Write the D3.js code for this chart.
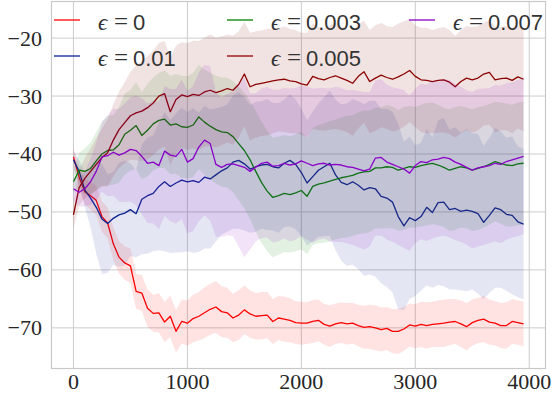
<!DOCTYPE html>
<html>
<head>
<meta charset="utf-8">
<script src="https://cdn.jsdelivr.net/npm/d3@7"></script>
<style>
  body { margin: 0; background: #ffffff; }
  svg { display: block; }
</style>
</head>
<body>
<div id="chart"></div>
<script>
// training steps (x)
var steps = [0,50,100,150,200,250,300,350,400,450,500,550,600,650,700,750,800,850,900,950,
  1000,1050,1100,1150,1200,1250,1300,1350,1400,1450,1500,1550,1600,1650,1700,1750,1800,1850,1900,1950,
  2000,2050,2100,2150,2200,2250,2300,2350,2400,2450,2500,2550,2600,2650,2700,2750,2800,2850,2900,2950,
  3000,3050,3100,3150,3200,3250,3300,3350,3400,3450,3500,3550,3600,3650,3700,3750,3800,3850,3900,3950];

var xTicks = [0, 1000, 2000, 3000, 4000];
var yTicks = [-20, -30, -40, -50, -60, -70];

// eps = 0
var meanEps0 = [-40.5,-44.0,-46.5,-47.2,-48.0,-50.8,-51.9,-55.5,-57.8,-58.8,
  -59.3,-63.7,-64.0,-66.6,-67.5,-67.4,-69.0,-68.0,-70.6,-68.9,
  -69.2,-68.4,-68.0,-67.4,-66.8,-66.4,-67.2,-67.4,-68.3,-67.8,
  -66.9,-67.6,-68.0,-67.9,-67.8,-68.9,-68.3,-68.5,-68.7,-69.1,
  -69.2,-69.2,-68.9,-68.7,-69.4,-69.7,-69.3,-69.1,-69.3,-69.2,
  -69.6,-69.9,-69.8,-70.0,-70.3,-70.1,-70.6,-70.6,-70.2,-69.5,
  -69.7,-69.4,-69.6,-69.4,-69.3,-69.2,-69.0,-68.9,-69.3,-69.8,
  -69.1,-68.7,-68.5,-69.0,-69.2,-69.6,-69.6,-68.9,-69.1,-69.3];
var spreadEps0 = [1.5,2.0,2.2,2.4,2.5,2.6,2.7,2.8,2.8,2.9,
  3.0,3.0,3.1,3.2,3.2,3.4,3.5,3.6,3.7,3.8,
  3.9,4.1,4.2,4.4,4.4,4.5,4.4,4.3,4.2,4.3,
  4.2,4.1,4.0,4.1,4.0,3.9,3.8,3.9,3.8,3.7,
  3.7,3.6,3.7,3.6,3.5,3.6,3.5,3.5,3.6,3.5,
  3.6,3.7,3.8,3.9,3.8,3.7,3.8,3.9,3.8,3.7,
  3.8,3.9,4.0,3.9,4.0,4.1,4.0,3.9,4.0,4.1,
  4.0,3.9,4.0,3.9,3.8,3.9,4.0,3.9,3.8,3.9];

// eps = 0.01
var meanEps001 = [-41.0,-43.0,-46.2,-47.6,-49.2,-51.2,-52.0,-51.1,-50.5,-50.2,
  -49.6,-50.3,-47.8,-47.2,-46.8,-45.6,-44.8,-45.6,-45.0,-44.5,
  -44.8,-44.6,-44.9,-44.0,-44.3,-43.6,-42.9,-42.4,-41.4,-41.1,
  -41.7,-42.6,-42.2,-41.9,-41.8,-42.2,-42.4,-41.6,-41.1,-41.8,
  -43.2,-45.0,-43.9,-42.8,-42.2,-41.6,-43.6,-44.9,-45.3,-44.8,
  -45.4,-46.2,-45.8,-46.0,-47.3,-47.6,-48.3,-50.8,-52.4,-51.0,
  -51.5,-50.8,-49.2,-50.1,-48.4,-48.3,-49.6,-49.4,-49.9,-49.7,
  -49.9,-50.3,-51.8,-50.6,-49.3,-49.6,-50.4,-50.6,-51.7,-52.1];
var spreadEps001 = [1.5,2.0,3.0,5.0,8.0,9.5,8.5,8.0,9.0,9.0,
  8.0,7.5,9.5,10.0,10.0,11.0,12.0,11.5,12.0,12.5,
  12.0,12.5,12.0,12.3,12.0,11.5,11.0,11.0,11.5,11.8,
  11.5,11.0,11.2,11.0,11.3,11.0,11.2,11.0,11.4,11.2,
  11.0,10.8,11.2,11.5,12.0,12.5,13.0,13.5,14.0,14.3,
  14.5,14.8,15.0,15.2,15.0,15.4,15.6,16.0,14.5,14.0,
  13.0,12.8,13.5,13.0,14.2,14.5,13.8,14.0,13.6,14.0,
  13.5,13.8,13.2,13.4,13.8,13.5,13.2,13.6,13.0,13.0];

// eps = 0.003
var meanEps0003 = [-44.8,-42.8,-43.0,-42.5,-41.2,-40.0,-39.4,-39.3,-38.4,-36.6,
  -35.9,-35.1,-36.8,-35.9,-34.8,-34.2,-34.0,-35.0,-34.8,-35.3,
  -35.4,-35.0,-33.6,-34.5,-35.2,-35.8,-36.2,-36.3,-37.0,-38.2,
  -39.4,-41.0,-43.0,-44.9,-46.4,-47.5,-47.2,-46.8,-47.0,-46.7,
  -46.3,-47.3,-45.6,-45.2,-45.0,-44.7,-44.4,-44.1,-43.9,-43.7,
  -43.3,-43.1,-43.0,-42.4,-42.4,-42.2,-42.3,-42.8,-42.5,-42.2,
  -42.3,-42.0,-41.8,-41.6,-41.9,-42.3,-42.8,-42.5,-42.2,-42.4,
  -42.8,-42.5,-42.2,-41.8,-41.3,-41.6,-41.9,-42.0,-41.7,-41.6];
var spreadEps0003 = [2.0,3.0,4.0,4.5,5.0,5.5,6.0,6.0,6.5,7.0,
  7.0,7.5,7.5,8.0,8.0,8.2,8.4,8.5,8.6,8.8,
  8.8,9.0,9.0,9.1,9.2,9.3,9.4,9.5,9.6,9.8,
  10.0,10.2,10.4,10.5,10.4,10.3,10.2,10.1,10.0,10.1,
  10.2,10.0,10.1,10.2,10.3,10.4,10.3,10.4,10.5,10.4,
  10.5,10.6,10.5,10.4,10.5,10.6,10.5,10.4,10.6,10.5,
  10.4,10.5,10.6,10.5,10.4,10.3,10.5,10.6,10.5,10.4,
  10.5,10.6,10.5,10.4,10.3,10.5,10.6,10.5,10.6,10.6];

// eps = 0.005
var meanEps0005 = [-50.5,-45.8,-44.2,-43.0,-41.8,-40.6,-39.8,-37.6,-35.8,-34.6,
  -33.4,-32.9,-32.6,-32.0,-31.2,-30.0,-29.6,-32.7,-30.6,-29.8,
  -30.1,-29.7,-29.9,-29.3,-29.0,-29.4,-29.1,-28.7,-29.0,-28.0,
  -26.2,-28.4,-28.0,-27.8,-27.6,-27.4,-27.2,-27.1,-27.4,-27.5,
  -27.9,-28.1,-26.6,-27.0,-27.2,-26.8,-26.5,-26.9,-27.3,-27.8,
  -26.6,-25.8,-27.5,-26.9,-26.4,-26.8,-27.1,-26.7,-26.2,-25.6,
  -26.6,-27.2,-27.3,-27.5,-27.3,-27.2,-27.6,-28.4,-27.5,-26.9,
  -27.2,-26.9,-26.2,-25.9,-27.2,-27.0,-26.9,-27.3,-26.7,-27.1];
var spreadEps0005 = [2.5,3.0,3.5,4.0,4.5,5.0,5.8,6.2,6.6,7.0,
  7.6,8.2,8.6,8.9,9.0,9.2,9.1,9.2,9.3,9.1,
  9.2,9.3,9.4,9.4,9.6,9.5,9.4,9.3,9.4,9.2,
  9.0,9.3,9.2,9.1,9.2,9.0,8.9,9.1,9.0,8.9,
  8.8,9.0,9.1,8.9,8.8,9.0,9.2,9.0,8.9,9.1,
  9.0,8.8,8.9,9.1,9.0,8.9,9.0,9.2,9.1,8.9,
  8.8,9.0,9.1,8.9,9.0,9.1,9.0,8.8,8.9,9.0,
  9.1,9.0,8.9,9.0,9.1,8.9,9.0,9.1,8.9,9.0];

// eps = 0.007
var meanEps0007 = [-46.0,-46.6,-46.0,-44.8,-43.0,-40.5,-40.3,-39.7,-40.2,-39.8,
  -39.2,-39.4,-40.4,-41.6,-41.4,-42.0,-39.5,-40.2,-40.4,-39.2,
  -41.4,-40.8,-38.8,-37.6,-38.2,-41.8,-42.3,-41.8,-41.7,-42.0,
  -42.3,-43.0,-42.3,-41.6,-41.4,-42.1,-42.0,-41.6,-41.9,-41.7,
  -41.2,-41.6,-42.0,-41.7,-41.6,-41.9,-41.8,-41.9,-42.2,-42.3,
  -42.6,-42.9,-42.6,-40.7,-40.6,-41.4,-41.8,-42.2,-42.6,-43.3,
  -42.0,-41.3,-41.5,-41.0,-40.9,-40.6,-40.8,-41.4,-41.8,-42.3,
  -42.8,-42.4,-42.2,-42.0,-41.6,-41.8,-41.3,-41.0,-40.7,-40.4];
var spreadEps0007 = [2.0,2.5,3.0,4.0,5.0,6.0,7.0,7.5,8.0,8.5,
  9.0,9.5,10.0,10.3,10.6,11.0,11.2,11.4,11.6,12.0,
  12.3,12.5,12.8,13.0,13.3,12.5,12.0,12.2,12.5,14.0,
  15.5,13.5,12.8,12.9,13.0,13.2,13.1,13.0,13.2,13.1,
  13.0,13.2,13.3,13.1,13.0,13.2,13.4,13.3,13.2,13.4,
  13.5,13.6,13.3,13.4,13.5,13.4,13.3,13.5,13.6,13.4,
  13.3,13.4,13.5,13.6,13.4,13.5,13.6,13.5,13.4,13.3,
  13.5,13.6,13.5,13.4,13.5,13.6,13.5,13.4,13.5,13.4];

// legend order (column-wise, 3 columns) == plotting order
var seriesNames = ["0", "0.01", "0.003", "0.005", "0.007"];
var seriesColors = ["#ff0000", "#0a2490", "#008000", "#8b0000", "#8a00c8"];
var seriesMeans = [meanEps0, meanEps001, meanEps0003, meanEps0005, meanEps0007];
var seriesSpreads = [spreadEps0, spreadEps001, spreadEps0003, spreadEps0005, spreadEps0007];

var width = 555, height = 394;
var plot = {left: 51, right: 546, top: 1, bottom: 369};

var svg = d3.select("#chart").append("svg")
    .attr("width", width)
    .attr("height", height);

svg.append("rect").attr("width", width).attr("height", height).attr("fill", "#ffffff");

var x = d3.scaleLinear().domain([-197, 4147]).range([plot.left, plot.right]);
var y = d3.scaleLinear().domain([-13.6, -77.1]).range([plot.top, plot.bottom]);

svg.append("defs").append("clipPath").attr("id", "clip")
  .append("rect")
    .attr("x", plot.left).attr("y", plot.top)
    .attr("width", plot.right - plot.left).attr("height", plot.bottom - plot.top);

// grid
var grid = svg.append("g");
grid.selectAll("line.gx").data(xTicks).enter().append("line")
    .attr("x1", function (d) { return x(d); }).attr("x2", function (d) { return x(d); })
    .attr("y1", plot.top).attr("y2", plot.bottom)
    .attr("stroke", "#cccccc").attr("stroke-width", 1);
grid.selectAll("line.gy").data(yTicks).enter().append("line")
    .attr("y1", function (d) { return y(d); }).attr("y2", function (d) { return y(d); })
    .attr("x1", plot.left).attr("x2", plot.right)
    .attr("stroke", "#cccccc").attr("stroke-width", 1);

var g = svg.append("g").attr("clip-path", "url(#clip)");

var area = d3.area()
    .x(function (d) { return x(d.step); })
    .y0(function (d) { return y(d.mean - d.spread); })
    .y1(function (d) { return y(d.mean + d.spread); });

var line = d3.line()
    .x(function (d) { return x(d.step); })
    .y(function (d) { return y(d.mean); });

var seriesData = seriesNames.map(function (name, i) {
    return steps.map(function (s, j) {
        return {step: s, mean: seriesMeans[i][j], spread: seriesSpreads[i][j]};
    });
});

seriesData.forEach(function (pts, i) {
    g.append("path")
        .attr("d", area(pts))
        .attr("fill", seriesColors[i])
        .attr("fill-opacity", 0.11)
        .attr("stroke", "none");
    g.append("path")
        .attr("d", line(pts))
        .attr("fill", "none")
        .attr("stroke", seriesColors[i])
        .attr("stroke-width", 1.3)
        .attr("stroke-linejoin", "round");
});

// frame
svg.append("rect")
    .attr("x", plot.left + 0.5).attr("y", plot.top + 0.5)
    .attr("width", plot.right - plot.left - 1).attr("height", plot.bottom - plot.top - 1)
    .attr("fill", "none").attr("stroke", "#c8c8c8").attr("stroke-width", 1.2);

// tick labels
svg.selectAll("text.xt").data(xTicks).enter().append("text")
    .attr("x", function (d) { return x(d); })
    .attr("y", 389)
    .attr("text-anchor", "middle")
    .style("font-family", "'Liberation Serif'").style("font-size", "22px").style("fill", "#262626")
    .text(function (d) { return d; });

svg.selectAll("text.yt").data(yTicks).enter().append("text")
    .attr("x", 42)
    .attr("y", function (d) { return y(d) + 7.5; })
    .attr("text-anchor", "end")
    .style("font-family", "'Liberation Serif'").style("font-size", "22px").style("fill", "#262626")
    .text(function (d) { return "\u2212" + Math.abs(d); });

// legend, filled column by column
var legCols = [54, 227, 409];
var legRows = [20, 56];
seriesNames.forEach(function (name, i) {
    var col = Math.floor(i / 2), row = i % 2;
    var lx = legCols[col], ly = legRows[row];
    var lg = svg.append("g").attr("transform", "translate(" + lx + "," + ly + ")");
    lg.append("line")
        .attr("x1", 0).attr("x2", 26).attr("y1", 0).attr("y2", 0)
        .attr("stroke", seriesColors[i]).attr("stroke-width", 1.3);
    lg.append("text")
        .attr("x", 44).attr("y", 9.5)
        .style("font-family", "'Liberation Serif'").style("font-style", "italic")
        .style("font-size", "23px").style("fill", "#333333")
        .text("\u03f5");
    lg.append("text")
        .attr("x", 60).attr("y", 9.5)
        .style("font-family", "'Liberation Serif'").style("font-size", "25px").style("fill", "#333333")
        .text("=");
    lg.append("text")
        .attr("x", 79).attr("y", 10)
        .style("font-family", "'Liberation Sans'").style("font-size", "22px").style("fill", "#333333")
        .text(name);
});
</script>
</body>
</html>
